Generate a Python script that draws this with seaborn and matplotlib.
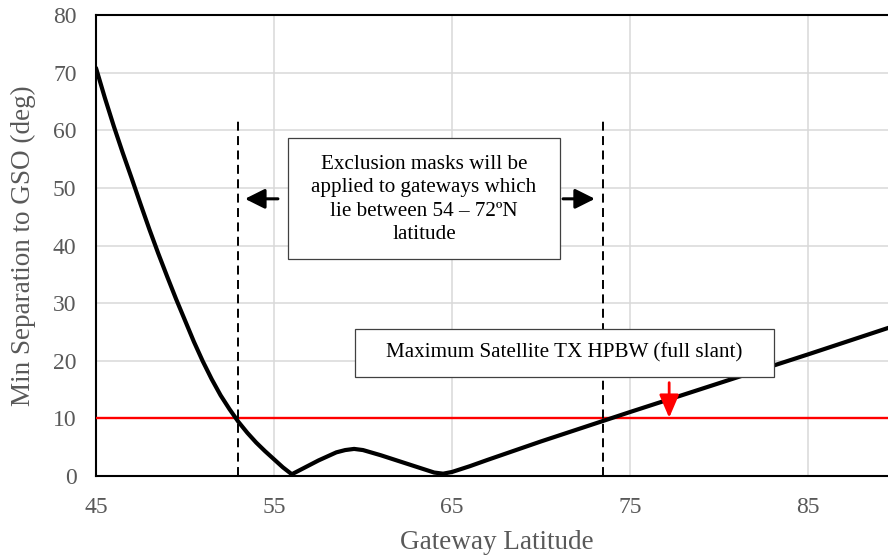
import matplotlib
matplotlib.use("Agg")
import matplotlib.pyplot as plt
from matplotlib.patches import Rectangle
import seaborn as sns
import pandas as pd

# Data
latitude = [45, 45.5, 46, 46.5, 47, 47.5, 48, 48.5, 49, 49.5, 50, 50.5, 51,
            51.5, 52, 52.5, 53, 53.5, 54, 54.5, 55, 55.5, 56, 56.5, 57, 57.5,
            58, 58.5, 59, 59.5, 60, 61, 62, 63, 64, 64.5, 65, 66, 67, 70, 75,
            80, 85, 90]
min_sep = [70.8, 65.6, 60.7, 56.1, 51.7, 47.2, 42.8, 38.6, 34.6, 30.7, 27.0,
           23.3, 19.9, 16.8, 14.0, 11.6, 9.4, 7.5, 5.8, 4.3, 2.9, 1.5, 0.3,
           1.1, 1.9, 2.7, 3.4, 4.1, 4.5, 4.7, 4.5, 3.6, 2.6, 1.6, 0.6, 0.4,
           0.7, 1.7, 2.8, 6.0, 11.1, 16.1, 21.1, 26.2]
hpbw_threshold = 10
mask_bounds = [53, 73.5]
mask_top = 62.3
x_ticks = [45, 55, 65, 75, 85]
y_ticks = [0, 10, 20, 30, 40, 50, 60, 70, 80]

df = pd.DataFrame({"Gateway Latitude": latitude, "Min Separation": min_sep})

sns.set_theme(style="whitegrid")
plt.rcParams["font.family"] = ["Liberation Serif", "DejaVu Serif"]

fig = plt.figure(figsize=(8.88, 5.59), dpi=100)
ax = fig.add_axes([96 / 888, 1 - 476 / 559, 801 / 888, 461 / 559])

sns.lineplot(data=df, x="Gateway Latitude", y="Min Separation", ax=ax,
             color="black", linewidth=3.0, zorder=4)
ax.axhline(hpbw_threshold, color="#ff0000", linewidth=1.7, zorder=3)

for xb in mask_bounds:
    ax.plot([xb, xb], [0, mask_top], color="black", linewidth=1.4,
            linestyle=(0, (4.6, 2.8)), zorder=3)

ax.set_xlim(45, 90)
ax.set_ylim(0, 80)
ax.set_xticks(x_ticks)
ax.set_yticks(y_ticks)
ax.grid(True, color="#d9d9d9", linewidth=1.1)
ax.set_axisbelow(True)
ax.tick_params(axis="both", length=0, labelsize=17, labelcolor="#595959")
ax.tick_params(axis="x", pad=15)
ax.tick_params(axis="y", pad=14)
ax.set_xlabel("Gateway Latitude", fontsize=19.5, color="#595959", labelpad=9)
ax.set_ylabel("Min Separation to GSO (deg)", fontsize=19.5, color="#595959",
              labelpad=12)
ax.set_facecolor("white")
for s in ["left", "bottom", "top"]:
    ax.spines[s].set_visible(True)
    ax.spines[s].set_color("black")
    ax.spines[s].set_linewidth(1.5)
ax.spines["right"].set_visible(False)

# Annotation box 1
ax.add_patch(Rectangle((55.79, 37.67), 71.07 - 55.79, 58.68 - 37.67,
                       facecolor="white", edgecolor="#404040", linewidth=0.9,
                       zorder=5))
ax.text(63.43, 48.0,
        "Exclusion masks will be\napplied to gateways which\nlie between 54 \u2013 72\u00baN\nlatitude",
        ha="center", va="center", fontsize=15.2, color="black",
        linespacing=1.3, zorder=6)

arrow_kw = dict(arrowstyle="-|>,head_length=0.6,head_width=0.3",
                color="black", lw=2.2, shrinkA=0, shrinkB=0,
                mutation_scale=20)
ax.annotate("", xy=(53.37, 48.1), xytext=(55.22, 48.1), arrowprops=arrow_kw,
            zorder=6)
ax.annotate("", xy=(73.03, 48.1), xytext=(71.24, 48.1), arrowprops=arrow_kw,
            zorder=6)

# Annotation box 2
ax.add_patch(Rectangle((59.55, 17.19), 83.09 - 59.55, 25.52 - 17.19,
                       facecolor="white", edgecolor="#404040", linewidth=0.9,
                       zorder=5))
ax.text(71.32, 21.4, "Maximum Satellite TX HPBW (full slant)",
        ha="center", va="center", fontsize=15.2, color="black", zorder=6)

ax.annotate("", xy=(77.2, 10.1), xytext=(77.2, 16.2),
            arrowprops=dict(arrowstyle="-|>,head_length=0.7,head_width=0.3",
                            color="#ff0000", lw=2.0, shrinkA=0, shrinkB=0,
                            mutation_scale=20),
            zorder=6)

fig.savefig("out.png", dpi=100)
